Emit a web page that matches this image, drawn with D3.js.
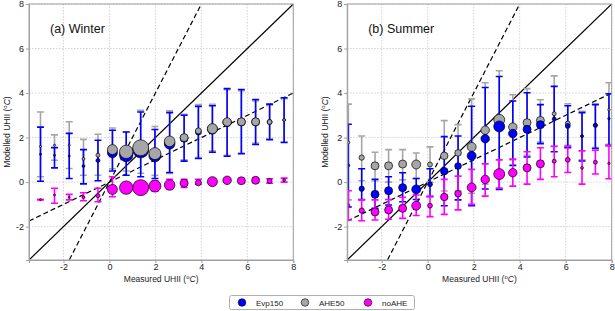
<!DOCTYPE html>
<html>
<head>
<meta charset="utf-8">
<script src="https://cdn.jsdelivr.net/npm/d3@7"></script>
<style>
  body { margin: 0; background: #fff; }
  text { font-family: "Liberation Sans", Arial, sans-serif; }
</style>
</head>
<body>
<div id="chart"></div>
<script>
// ---- winter bins ----
const winterX = [-3.0, -2.39, -1.75, -1.13, -0.5, 0.13, 0.73, 1.36, 1.98, 2.62, 3.25, 3.87, 4.48, 5.12, 5.74, 6.36, 6.97, 7.6]
const winterN = [1, 1, 1, 2, 4, 25, 45, 64, 36, 28, 16, 9, 25, 18, 16, 16, 6, 2]
const winterBlue   = [1.25, 1.2, 1.17, 0.72, 0.97, 1.32, 1.22, 1.45, 1.18, 1.72, 1.97, 2.25, 2.38, 2.68, 2.7, 2.7, 2.7, 2.79]
const winterBlueLo = [0.04, 0.64, 0.16, -0.08, 0.06, 0.5, 0.31, 0.24, 0.16, 0.43, 0.94, 1.06, 1.34, 1.16, 1.27, 1.69, 1.9, 1.78]
const winterBlueHi = [2.47, 1.55, 2.19, 1.46, 1.88, 2.33, 2.25, 3.15, 2.36, 3.12, 3.0, 3.4, 3.43, 4.2, 4.16, 3.71, 3.5, 3.79]
const winterGray   = [1.6, 1.66, 1.66, 1.04, 1.21, 1.46, 1.36, 1.54, 1.28, 1.83, 2.0, 2.3, 2.4, 2.7, 2.71, 2.71, 2.7, 2.79]
const winterGrayLo = [0.24, 0.98, 0.61, 0.31, 0.31, 0.6, 0.5, 0.4, 0.3, 0.39, 1.0, 1.1, 1.4, 1.2, 1.3, 1.75, 1.95, 1.8]
const winterGrayHi = [3.15, 2.12, 2.71, 1.92, 2.15, 2.43, 2.25, 3.22, 2.5, 3.2, 3.05, 3.48, 3.49, 4.15, 4.1, 3.65, 3.45, 3.75]
const winterMag    = [-0.79, -0.58, -0.68, -0.68, -0.61, -0.33, -0.25, -0.25, -0.18, -0.13, -0.05, -0.03, 0.02, 0.08, 0.06, 0.08, 0.05, 0.09]
const winterMagLo  = [-0.79, -0.95, -0.8, -0.84, -0.88, -0.66, -0.45, -0.45, -0.4, -0.3, -0.24, -0.1, -0.08, 0.0, 0.0, 0.0, -0.05, 0.0]
const winterMagHi  = [-0.79, -0.28, -0.55, -0.48, -0.28, 0.24, -0.05, -0.05, 0.05, 0.12, 0.13, 0.13, 0.12, 0.15, 0.12, 0.15, 0.15, 0.18]

// ---- summer bins ----
const summerX = [-3.45, -2.87, -2.29, -1.7, -1.09, -0.5, 0.1, 0.72, 1.32, 1.91, 2.5, 3.11, 3.7, 4.32, 4.9, 5.5, 6.09, 6.71, 7.29, 7.88]
const summerN = [2, 7, 16, 16, 16, 20, 6, 14, 11, 20, 18, 30, 18, 16, 16, 4, 6, 2, 4, 1.5]
const summerBlue   = [0.75, -0.3, -0.55, -0.39, -0.25, -0.33, -0.1, 0.49, 0.72, 1.18, 1.95, 2.5, 2.18, 2.37, 2.58, 2.83, 2.52, 2.06, 2.55, 2.85]
const summerBlueLo = [-1.12, -0.79, -1.18, -1.03, -0.88, -0.78, -0.66, -1.06, -0.8, -1.06, -0.31, -0.33, 0.75, 1.13, 1.73, 1.36, 1.55, 0.95, 1.51, 1.64]
const summerBlueHi = [2.6, 0.6, 0.13, 0.24, 0.42, 0.16, 0.6, 2.04, 2.07, 3.41, 4.25, 4.74, 3.64, 4.01, 3.48, 4.3, 3.43, 3.12, 3.48, 3.97]
const summerGray   = [1.78, 1.1, 0.73, 0.73, 0.81, 0.79, 0.79, 1.18, 1.31, 1.58, 2.33, 2.8, 2.47, 2.67, 2.77, 3.07, 2.63, 2.06, 2.55, 3.25]
const summerGrayLo = [-0.8, 0.06, 0.06, 0.0, 0.1, 0.16, 0.0, -0.4, -0.4, -0.5, -0.1, 0.3, 1.0, 1.2, 1.8, 1.6, 1.65, 1.0, 1.55, 1.7]
const summerGrayHi = [3.5, 2.07, 1.34, 1.46, 1.46, 1.31, 1.58, 2.76, 2.58, 3.74, 4.46, 5.0, 3.92, 4.2, 3.7, 4.77, 3.52, 3.18, 3.5, 4.46]
const summerMag    = [-1.05, -1.28, -1.34, -1.25, -1.18, -1.06, -1.06, -0.67, -0.52, -0.24, 0.12, 0.36, 0.42, 0.64, 0.82, 0.94, 1.0, 0.64, 0.89, 0.84]
const summerMagLo  = [-1.7, -1.74, -1.7, -1.67, -1.63, -1.5, -1.55, -1.45, -1.25, -1.0, -0.63, -0.27, -0.18, -0.09, 0.12, 0.24, 0.43, -0.09, 0.36, 0.15]
const summerMagHi  = [-0.39, -0.8, -0.8, -0.78, -0.68, -0.58, -0.63, 0.12, 0.27, 0.57, 0.82, 1.0, 1.03, 1.36, 1.54, 1.61, 1.61, 1.4, 1.43, 1.65]

const ticks = [-2, 0, 2, 4, 6, 8]
const seriesNames = ["Evp150", "AHE50", "noAHE"]
const colors = { Evp150: "#0000ff", AHE50: "#a6a6a6", noAHE: "#ff00ff" }

const width = 615
const height = 311

var svg = d3.select("#chart")
            .append("svg")
            .attr("width", width)
            .attr("height", height)

var y = d3.scaleLinear().domain([-3.5, 8]).range([260, 4])
var r = d3.scaleSqrt().domain([0, 64]).range([0, 8])

// build rows for a panel from the flat arrays
function makeRows(xs, ns, blue, blo, bhi, gray, glo, ghi, mag, mlo, mhi) {
  return {
    Evp150: xs.map((x, i) => ({ x: x, n: ns[i], v: blue[i], lo: blo[i], hi: bhi[i] })),
    AHE50:  xs.map((x, i) => ({ x: x, n: ns[i], v: gray[i], lo: glo[i], hi: ghi[i] })),
    noAHE:  xs.map((x, i) => ({ x: x, n: ns[i], v: mag[i], lo: mlo[i], hi: mhi[i] }))
  }
}

function drawPanel(id, x0, x1, title, rows, markerOrder) {
  var x = d3.scaleLinear().domain([-3.5, 8]).range([x0, x1])
  var g = svg.append("g")

  g.append("clipPath").attr("id", "clip" + id)
    .append("rect").attr("x", x0).attr("y", 4).attr("width", x1 - x0).attr("height", 256)

  // grid
  g.append("g").selectAll("line").data(ticks).enter().append("line")
    .attr("x1", d => x(d)).attr("x2", d => x(d)).attr("y1", 4).attr("y2", 260)
    .attr("stroke", "#c8c8c8").attr("stroke-width", 0.8).attr("stroke-dasharray", "1.5,1.5")
  g.append("g").selectAll("line").data(ticks).enter().append("line")
    .attr("y1", d => y(d)).attr("y2", d => y(d)).attr("x1", x0).attr("x2", x1)
    .attr("stroke", "#c8c8c8").attr("stroke-width", 0.8).attr("stroke-dasharray", "1.5,1.5")

  var plot = g.append("g").attr("clip-path", "url(#clip" + id + ")")

  // reference lines: 1:1, 2:1, 1:2
  var slopes = [{ k: 1, dash: null }, { k: 2, dash: "5,3" }, { k: 0.5, dash: "5,3" }]
  slopes.forEach(function(s) {
    plot.append("line")
      .attr("x1", x(-3.5)).attr("y1", y(-3.5 * s.k))
      .attr("x2", x(8)).attr("y2", y(8 * s.k))
      .attr("stroke", "black").attr("stroke-width", 1.2)
      .attr("stroke-dasharray", s.dash)
  })

  // error bars
  ;["AHE50", "Evp150", "noAHE"].forEach(function(name) {
    var eb = plot.append("g").attr("stroke", colors[name]).attr("stroke-width", 1.6)
    var d = rows[name]
    eb.selectAll(".v").data(d).enter().append("line")
      .attr("x1", d => x(d.x)).attr("x2", d => x(d.x))
      .attr("y1", d => y(d.lo)).attr("y2", d => y(d.hi))
    eb.selectAll(".lo").data(d).enter().append("line")
      .attr("x1", d => x(d.x) - 3.5).attr("x2", d => x(d.x) + 3.5)
      .attr("y1", d => y(d.lo)).attr("y2", d => y(d.lo))
    eb.selectAll(".hi").data(d).enter().append("line")
      .attr("x1", d => x(d.x) - 3.5).attr("x2", d => x(d.x) + 3.5)
      .attr("y1", d => y(d.hi)).attr("y2", d => y(d.hi))
  })

  // markers
  markerOrder.forEach(function(name) {
    plot.append("g").selectAll("circle").data(rows[name]).enter().append("circle")
      .attr("cx", d => x(d.x)).attr("cy", d => y(d.v))
      .attr("r", d => r(d.n))
      .attr("fill", colors[name])
      .attr("stroke", "black").attr("stroke-width", 0.7)
  })

  // frame
  g.append("rect").attr("x", x0).attr("y", 4).attr("width", x1 - x0).attr("height", 256)
    .attr("fill", "none").attr("stroke", "#a0a0a0").attr("stroke-width", 1)

  // axes
  var ya = g.append("g").attr("transform", "translate(" + x0 + ",0)")
    .call(d3.axisLeft(y).tickValues(ticks).tickSize(3).tickPadding(2).tickFormat(d => String(d)))
  var xa = g.append("g").attr("transform", "translate(0,260)")
    .call(d3.axisBottom(x).tickValues(ticks).tickSize(3).tickPadding(1).tickFormat(d => String(d)))
  ;[ya, xa].forEach(function(a) {
    a.select(".domain").attr("stroke", "#a0a0a0")
    a.selectAll(".tick line").attr("stroke", "#a0a0a0")
    a.selectAll(".tick text").attr("font-size", 9).attr("fill", "#222")
      .style("font-family", '"Liberation Sans", Arial, sans-serif')
  })

  // axis titles
  var xt = g.append("text").attr("x", (x0 + x1) / 2).attr("y", 282)
    .attr("text-anchor", "middle").attr("font-size", 8.5).attr("fill", "#222")
  xt.append("tspan").text("Measured UHII (")
  xt.append("tspan").attr("font-size", 6).attr("dy", -3).text("o")
  xt.append("tspan").attr("font-style", "italic").attr("dy", 3).text("C")
  xt.append("tspan").text(")")

  var yt = g.append("text")
    .attr("transform", "translate(" + (x0 - 19) + "," + 132 + ") rotate(-90)")
    .attr("text-anchor", "middle").attr("font-size", 8.5).attr("fill", "#222")
  yt.append("tspan").text("Modelled UHII (")
  yt.append("tspan").attr("font-size", 6).attr("dy", -3).text("o")
  yt.append("tspan").attr("font-style", "italic").attr("dy", 3).text("C")
  yt.append("tspan").text(")")

  g.append("text").attr("x", x0 + 21).attr("y", 33)
    .attr("font-size", 12.5).attr("fill", "#111").text(title)
}

var winterRows = makeRows(winterX, winterN, winterBlue, winterBlueLo, winterBlueHi,
  winterGray, winterGrayLo, winterGrayHi, winterMag, winterMagLo, winterMagHi)
var summerRows = makeRows(summerX, summerN, summerBlue, summerBlueLo, summerBlueHi,
  summerGray, summerGrayLo, summerGrayHi, summerMag, summerMagLo, summerMagHi)

drawPanel("a", 29, 293.3, "(a) Winter", winterRows, ["Evp150", "AHE50", "noAHE"])
drawPanel("b", 347.2, 611.7, "(b) Summer", summerRows, ["AHE50", "Evp150", "noAHE"])

// legend
var legend = svg.append("g")
legend.append("rect").attr("x", 229.5).attr("y", 295.5).attr("width", 185).attr("height", 14)
  .attr("rx", 2).attr("fill", "white").attr("stroke", "#b0b0b0").attr("stroke-width", 1)
var legendX = d3.scalePoint().domain(seriesNames).range([242, 368])
seriesNames.forEach(function(name) {
  legend.append("circle").attr("cx", legendX(name)).attr("cy", 302.5).attr("r", 3.8)
    .attr("fill", colors[name]).attr("stroke", "black").attr("stroke-width", 0.6)
  legend.append("text").attr("x", legendX(name) + 14).attr("y", 305.5)
    .attr("font-size", 8).attr("fill", "#222").text(name)
})
</script>
</body>
</html>
